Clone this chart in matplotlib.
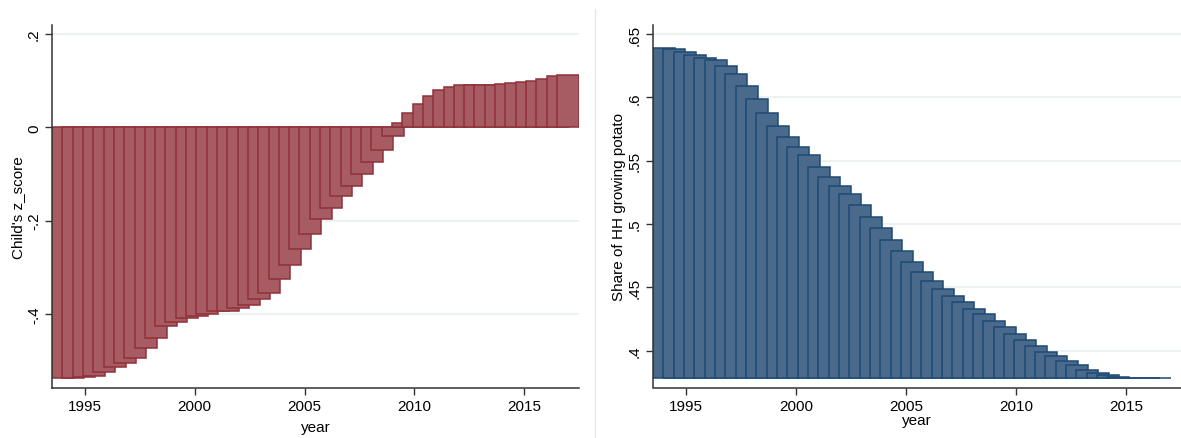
import numpy as np
import matplotlib
matplotlib.use("Agg")
import matplotlib.pyplot as plt
from matplotlib.lines import Line2D

plt.rcParams['font.family'] = ['Liberation Sans', 'DejaVu Sans']

# evaluation grid (years)
years = [1994.00, 1994.47, 1994.94, 1995.41, 1995.88, 1996.35, 1996.82, 1997.29,
         1997.76, 1998.22, 1998.69, 1999.16, 1999.63, 2000.10, 2000.57, 2001.04,
         2001.51, 2001.98, 2002.45, 2002.92, 2003.39, 2003.86, 2004.33, 2004.80,
         2005.27, 2005.73, 2006.20, 2006.67, 2007.14, 2007.61, 2008.08, 2008.55,
         2009.02, 2009.49, 2009.96, 2010.43, 2010.90, 2011.37, 2011.84, 2012.31,
         2012.78, 2013.24, 2013.71, 2014.18, 2014.65, 2015.12, 2015.59, 2016.06,
         2016.53, 2017.00]

# child's z-score
z_score = [-0.538, -0.537, -0.536, -0.533, -0.525, -0.515, -0.505, -0.496,
           -0.474, -0.451, -0.427, -0.417, -0.410, -0.404, -0.400, -0.395,
           -0.394, -0.388, -0.382, -0.368, -0.355, -0.325, -0.296, -0.261,
           -0.229, -0.196, -0.173, -0.148, -0.126, -0.100, -0.075, -0.048,
           -0.018, 0.009, 0.031, 0.050, 0.067, 0.081, 0.087, 0.090,
           0.091, 0.090, 0.090, 0.093, 0.096, 0.098, 0.099, 0.104,
           0.111, 0.113]

# share of households growing potato (last grid point missing)
share = [0.6386, 0.6382, 0.6358, 0.6337, 0.6313, 0.6293, 0.6245, 0.6182,
         0.6088, 0.5989, 0.5875, 0.5776, 0.5691, 0.5612, 0.5543, 0.5454,
         0.5374, 0.5299, 0.5241, 0.5148, 0.5059, 0.4966, 0.4876, 0.4785,
         0.4700, 0.4624, 0.4553, 0.4487, 0.4434, 0.4382, 0.4329, 0.4287,
         0.4234, 0.4185, 0.4134, 0.4087, 0.4039, 0.3995, 0.3956, 0.3919,
         0.3885, 0.3853, 0.3824, 0.3806, 0.3792, 0.3784, 0.3784, 0.3784,
         0.3784]
share_base = 0.3784

xticks = [1995, 2000, 2005, 2010, 2015]
z_ticks = [-0.4, -0.2, 0, 0.2]
z_labels = ['-.4', '-.2', '0', '.2']
s_ticks = [0.4, 0.45, 0.5, 0.55, 0.6, 0.65]
s_labels = ['.4', '.45', '.5', '.55', '.6', '.65']

W, H = 1181, 439
fig = plt.figure(figsize=(W / 100, H / 100), dpi=100)
ax1 = fig.add_axes([52 / W, 1 - 389 / H, 527 / W, 363 / H])
ax2 = fig.add_axes([653 / W, 1 - 388.5 / H, 528 / W, 362.5 / H])


def style(ax, ticks, labels, ylim, ylabel, xpad):
    ax.set_xlim(1993.5, 2017.5)
    ax.set_ylim(*ylim)
    ax.set_xticks(xticks)
    ax.set_xticklabels([str(t) for t in xticks])
    ax.set_yticks(ticks)
    ax.set_yticklabels(labels, rotation=90, va='center')
    ax.tick_params(direction='out', length=5, width=1, color='#333333',
                   labelsize=11, pad=3)
    ax.grid(axis='y', color='#e9f0f2', linewidth=1.2)
    ax.set_axisbelow(True)
    for s in ['top', 'right']:
        ax.spines[s].set_visible(False)
    for s in ['left', 'bottom']:
        ax.spines[s].set_color('#333333')
        ax.spines[s].set_linewidth(1.1)
    ax.set_xlabel('year', fontsize=11, labelpad=xpad)
    ax.set_ylabel(ylabel, fontsize=11, labelpad=1)


ax1.bar(years, z_score, width=1.0, color='#a65c62', edgecolor='#913039',
        linewidth=1.1, align='center')
style(ax1, z_ticks, z_labels, (-0.5593, 0.2194), "Child's z_score", 5)

ax2.bar(years[:len(share)], np.array(share) - share_base, bottom=share_base,
        width=1.0, color='#4a6a8c', edgecolor='#1e4a74', linewidth=1.1,
        align='center')
style(ax2, s_ticks, s_labels, (0.3711, 0.6571), 'Share of HH growing potato', 0)

# light border between the two graphs
fig.add_artist(Line2D([595 / W, 595 / W], [0, 1 - 10 / H], color='#e8e8e8',
                      linewidth=1.0, transform=fig.transFigure))

fig.savefig('out.png', dpi=100)
